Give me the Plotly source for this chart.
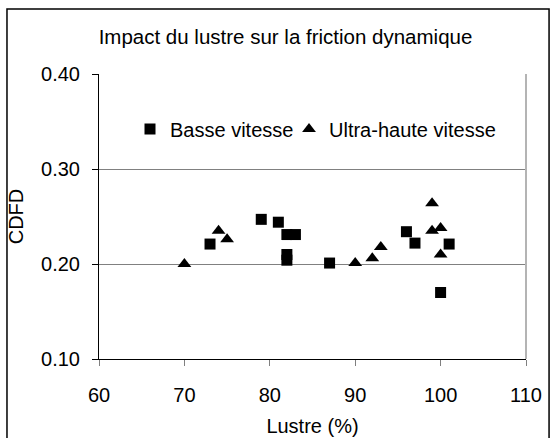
import plotly.graph_objects as go

# data
basse_x = [73, 79, 81, 82, 83, 82, 82, 87, 96, 97, 101, 100]
basse_y = [0.221, 0.247, 0.244, 0.231, 0.231, 0.210, 0.204, 0.201, 0.234, 0.222, 0.221, 0.170]

ultra_x = [70, 74, 75, 90, 92, 93, 99, 99, 100, 100]
ultra_y = [0.200, 0.235, 0.226, 0.201, 0.206, 0.218, 0.264, 0.235, 0.238, 0.210]

x_ticks = [60, 70, 80, 90, 100, 110]
y_ticks = [0.10, 0.20, 0.30, 0.40]

#colors
text_color = 'rgba(0,0,0,1)'
grid_color = 'rgba(128,128,128,1)'
border_color = 'rgba(180,180,180,1)'
font_family = 'Liberation Sans, Arial, Helvetica, sans-serif'
font_size = 20

fig = go.Figure()

fig.add_trace(
    go.Scatter(
        mode='markers',
        x=basse_x,
        y=basse_y,
        name="Basse vitesse",
        legend='legend',
        marker=dict(symbol='square', size=11, color='black'),
    )
)
fig.add_trace(
    go.Scatter(
        mode='markers',
        x=ultra_x,
        y=ultra_y,
        name="Ultra-haute vitesse",
        legend='legend2',
        marker=dict(symbol='triangle-up', size=12, color='black'),
    )
)

fig.update_xaxes(
    range=[60, 110],
    tickvals=x_ticks,
    ticktext=[str(v) for v in x_ticks],
    automargin=False,
    showgrid=False,
    zeroline=False,
    showline=True,
    linecolor='black',
    linewidth=1,
    ticks='outside',
    ticklen=6,
    tickcolor=grid_color,
    ticklabelstandoff=12,
    tickfont=dict(family=font_family, size=font_size, color=text_color),
    title=dict(
        text="Lustre (%)",
        font=dict(family=font_family, size=font_size, color=text_color),
        standoff=13,
    ),
)
fig.update_yaxes(
    range=[0.10, 0.40],
    tickvals=y_ticks,
    ticktext=[f"{v:.2f}" for v in y_ticks],
    automargin=False,
    showgrid=True,
    gridcolor=grid_color,
    gridwidth=1,
    zeroline=False,
    showline=True,
    linecolor='black',
    linewidth=1,
    ticks='outside',
    ticklen=6,
    tickcolor='black',
    ticklabelstandoff=8,
    tickfont=dict(family=font_family, size=font_size, color=text_color),
    title=dict(
        text="CDFD",
        font=dict(family=font_family, size=font_size, color=text_color),
        standoff=12,
    ),
)

# right border of plot area and outer frame
fig.add_shape(type='line', xref='paper', yref='paper', x0=1, x1=1, y0=0, y1=1,
              line=dict(color=border_color, width=2))
fig.add_shape(type='rect', xref='paper', yref='paper', x0=-0.2155, x1=1.054, y0=-0.30, y1=1.228,
              line=dict(color='black', width=1.5), layer='above')

legend_style = dict(
    orientation='h',
    xanchor='left',
    y=0.807,
    yanchor='middle',
    bgcolor='rgba(0,0,0,0)',
    font=dict(family=font_family, size=font_size, color=text_color),
)

fig.update_layout(
    width=556,
    height=438,
    margin=dict(l=99, r=30, t=74, b=79),
    paper_bgcolor='white',
    plot_bgcolor='white',
    font=dict(family=font_family, size=font_size, color=text_color),
    title=dict(
        text="Impact du lustre sur la friction dynamique",
        font=dict(family=font_family, size=20.5, color=text_color),
        x=285.5 / 556,
        xanchor='center',
        y=1 - 37 / 438,
        yanchor='middle',
    ),
    legend=dict(x=0.0726, **legend_style),
    legend2=dict(x=0.445, **legend_style),
    showlegend=True,
)

# page body has a default margin, drop it so the figure sits at the window corner
fig.write_html("out.html", config={'displayModeBar': False},
               post_script="document.body.style.margin='0';")
